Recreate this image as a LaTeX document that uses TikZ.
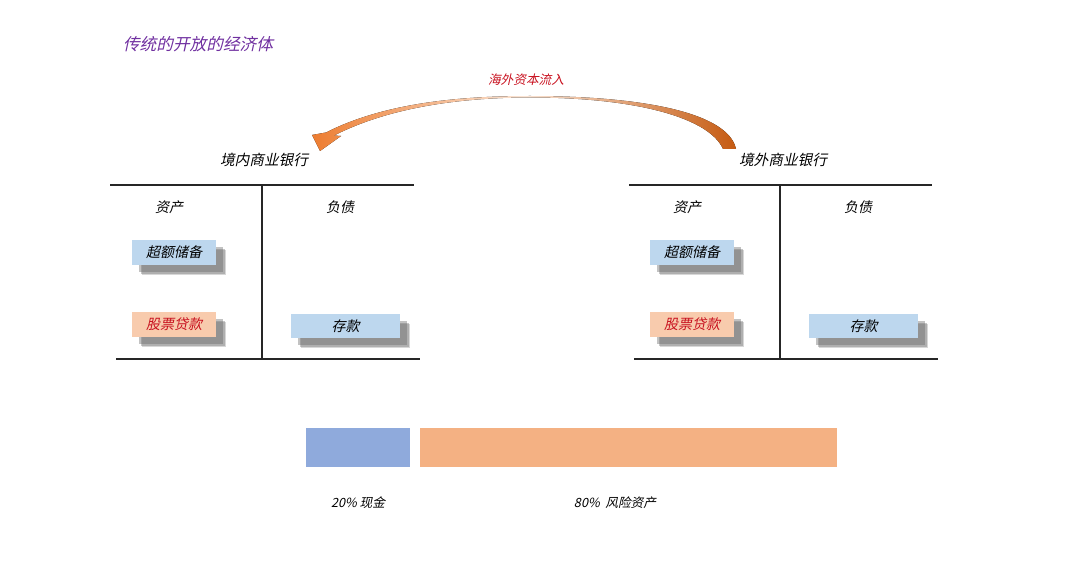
\documentclass[tikz,border=0pt]{standalone}
\usepackage{fontspec}
\newfontfamily\cjk{Noto Sans CJK SC}[FakeSlant=0.22]
\usetikzlibrary{shadows}

\definecolor{titlepurple}{RGB}{112,48,160}
\definecolor{flowred}{RGB}{200,16,30}
\definecolor{boxblue}{RGB}{189,215,238}
\definecolor{boxpeach}{RGB}{248,203,173}
\definecolor{barblue}{RGB}{143,170,220}
\definecolor{barorange}{RGB}{244,177,131}
\definecolor{arrowleft}{RGB}{237,125,49}
\definecolor{arrowmid}{RGB}{250,228,212}
\definecolor{arrowright}{RGB}{197,90,17}

\tikzset{every picture/.style={line width=0.75pt}}
\tikzset{
  lbl/.style={inner sep=0.75pt,font=\cjk\fontsize{10.5}{12}\selectfont},
  tbox/.style={lbl,minimum height=18.75pt,
    drop shadow={shadow xshift=7.5pt,shadow yshift=-7.5pt,fill=black!45,opacity=.35},
    drop shadow={shadow xshift=6.5pt,shadow yshift=-6.5pt,fill=black!55,opacity=.4},
    drop shadow={shadow xshift=5.5pt,shadow yshift=-5.5pt,fill=black!60,opacity=.4}},
  bluebox/.style={tbox,fill=boxblue,minimum width=63pt},
  peachbox/.style={tbox,fill=boxpeach,minimum width=63pt,text=flowred},
  depbox/.style={tbox,fill=boxblue,minimum width=81.75pt,minimum height=18pt},
  tline/.style={draw=black!85,line width=0.9pt}
}

\begin{document}
\begin{tikzpicture}[x=0.75pt,y=0.75pt,yscale=-1,xscale=1]
        \useasboundingbox (0,0) rectangle (1080,577);

        % Title
        \node[lbl,text=titlepurple,font=\cjk\fontsize{12.5}{15}\selectfont] (title) at (198,44) {传统的开放的经济体};

        %Curved Arrow [flow]
        \fill[left color=arrowleft,right color=arrowright,middle color=arrowmid]
          (320,151) -- (312,135) -- (326,132.5)
          .. controls (382,104) and (455,96) .. (530,96)
          .. controls (640,96) and (728,112) .. (736,149)
          -- (723,149)
          .. controls (710,119) and (640,97.5) .. (530,97.5)
          .. controls (458,97.5) and (388,108) .. (334,135.5)
          -- (341,136) -- cycle;
        % Text Node
        \node[lbl,text=flowred,font=\cjk\fontsize{9.5}{11}\selectfont] (flow) at (526,80) {海外资本流入};

        %Domestic bank
        \node[lbl,font=\cjk\fontsize{11}{13}\selectfont] (dombank) at (264,160) {境内商业银行};
        \coordinate (dtl) at (110,185);
        \coordinate (dtr) at (414,185);
        \coordinate (dbl) at (116,359);
        \coordinate (dbr) at (420,359);
        \coordinate (dvt) at (262,185);
        \coordinate (dvb) at (262,359);
        \draw[tline] (dtl) -- (dtr);
        \draw[tline] (dbl) -- (dbr);
        \draw[tline] (dvt) -- (dvb);
        \node[lbl] (domasset) at (169,207) {资产};
        \node[lbl] (domdebt) at (340,207) {负债};
        \node[bluebox] (domreserve) at (174,252.5) {超额储备};
        \node[peachbox] (domloan) at (174,324.5) {股票贷款};
        \node[depbox] (domdeposit) at (345.5,326) {存款};

        %Foreign bank
        \node[lbl,font=\cjk\fontsize{11}{13}\selectfont] (forbank) at (783,160) {境外商业银行};
        \coordinate (ftl) at (629,185);
        \coordinate (ftr) at (932,185);
        \coordinate (fbl) at (634,359);
        \coordinate (fbr) at (938,359);
        \coordinate (fvt) at (780,185);
        \coordinate (fvb) at (780,359);
        \draw[tline] (ftl) -- (ftr);
        \draw[tline] (fbl) -- (fbr);
        \draw[tline] (fvt) -- (fvb);
        \node[lbl] (forasset) at (687,207) {资产};
        \node[lbl] (fordebt) at (858,207) {负债};
        \node[bluebox] (forreserve) at (692,252.5) {超额储备};
        \node[peachbox] (forloan) at (692,324.5) {股票贷款};
        \node[depbox] (fordeposit) at (863.5,326) {存款};

        %Bars
        \fill[barblue] (306,428) rectangle (410,467);
        \fill[barorange] (420,428) rectangle (837,467);
        % Text Node
        \node[lbl,font=\cjk\fontsize{9.5}{11}\selectfont] (cash) at (358,503) {20\% 现金};
        % Text Node
        \node[lbl,font=\cjk\fontsize{9.5}{11}\selectfont] (risk) at (615,503) {80\%\ \ 风险资产};

\end{tikzpicture}
\end{document}
